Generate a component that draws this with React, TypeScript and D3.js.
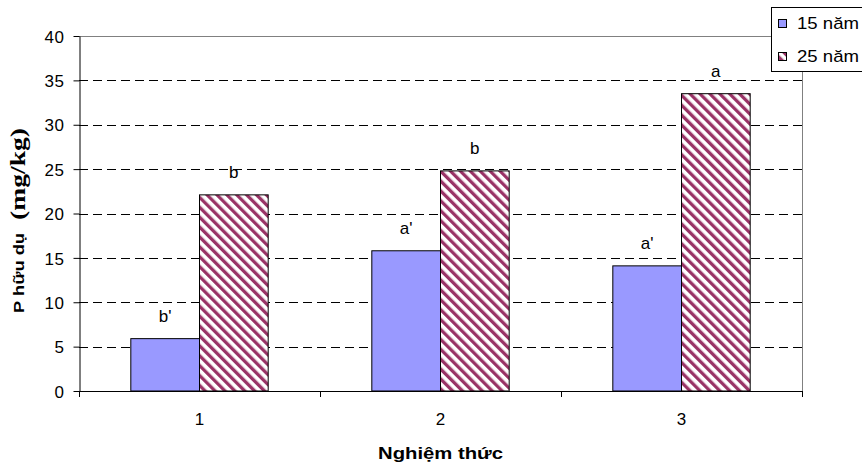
import React, { useEffect, useRef } from "react";
import * as d3 from "d3";

// values
const categories = ["1", "2", "3"];
const seriesNames = ["15 năm", "25 năm"];
const values15 = [5.9, 15.8, 14.1];
const values25 = [22.1, 24.8, 33.5];
const letters15 = ["b'", "a'", "a'"];
const letters25 = ["b", "b", "a"];
const yTicks = [0, 5, 10, 15, 20, 25, 30, 35, 40];

const W = 862;
const H = 468;
const plot = { left: 79, right: 802, top: 36, bottom: 391 };
const blue = "#9999FF";
const maroon = "#993366";
const sans = "Arial, 'Liberation Sans', sans-serif";
const serif = "'Times New Roman', 'Liberation Serif', serif";

export default function App() {
  const ref = useRef<SVGSVGElement>(null);

  useEffect(() => {
    document.body.style.margin = "0";
    const svg = d3.select(ref.current);
    svg.selectAll("*").remove();

    const series = [
      { name: seriesNames[0], values: values15, letters: letters15, fill: blue },
      { name: seriesNames[1], values: values25, letters: letters25, fill: "url(#hatch)" }
    ];

    // hatch pattern for the 25 năm bars
    const defs = svg.append("defs");
    const pat = defs
      .append("pattern")
      .attr("id", "hatch")
      .attr("patternUnits", "userSpaceOnUse")
      .attr("width", 7)
      .attr("height", 7)
      .attr("patternTransform", "rotate(-45)");
    pat.append("rect").attr("width", 7).attr("height", 7).attr("fill", "#fff");
    pat.append("rect").attr("width", 3.3).attr("height", 7).attr("fill", maroon);

    svg.append("rect").attr("width", W).attr("height", H).attr("fill", "#fff");

    const y = d3.scaleLinear().domain([0, 40]).range([plot.bottom, plot.top]);
    const x0 = d3
      .scaleBand()
      .domain(categories)
      .range([plot.left, plot.right])
      .paddingInner(0.43)
      .paddingOuter(0.215);
    const x1 = d3.scaleBand().domain(seriesNames).range([0, x0.bandwidth()]);

    // gridlines
    svg
      .append("g")
      .selectAll("line")
      .data(yTicks.filter(d => d > 0 && d < 40))
      .enter()
      .append("line")
      .attr("x1", plot.left)
      .attr("x2", plot.right)
      .attr("y1", d => Math.round(y(d)) + 0.5)
      .attr("y2", d => Math.round(y(d)) + 0.5)
      .attr("stroke", "#000")
      .attr("stroke-dasharray", "9,5");

    // plot area border (top + right), grey
    svg
      .append("path")
      .attr("d", `M${plot.left},${plot.top + 0.5}H${plot.right + 0.5}V${plot.bottom}`)
      .attr("fill", "none")
      .attr("stroke", "#808080");

    // bars
    const groups = svg
      .append("g")
      .selectAll("g")
      .data(series)
      .enter()
      .append("g");

    groups
      .selectAll("rect")
      .data(s => s.values.map((v, i) => ({ v, i, s })))
      .enter()
      .append("rect")
      .attr("x", d => x0(categories[d.i])! + x1(d.s.name)!)
      .attr("y", d => y(d.v))
      .attr("width", x1.bandwidth())
      .attr("height", d => y(0) - y(d.v))
      .attr("fill", d => d.s.fill)
      .attr("stroke", "#000")
      .attr("stroke-width", 1);

    // letters above bars
    groups
      .selectAll("text")
      .data(s => s.values.map((v, i) => ({ v, i, s })))
      .enter()
      .append("text")
      .attr("x", d => x0(categories[d.i])! + x1(d.s.name)! + x1.bandwidth() / 2)
      .attr("y", d => y(d.v) - 17)
      .attr("text-anchor", "middle")
      .attr("font-family", sans)
      .attr("font-size", 17)
      .text(d => d.s.letters[d.i]);

    // y axis
    const yAxis = svg
      .append("g")
      .attr("transform", `translate(${plot.left + 0.5},0)`)
      .call(
        d3
          .axisLeft(y)
          .tickValues(yTicks)
          .tickSize(6)
          .tickSizeOuter(0)
          .tickPadding(9)
      );
    yAxis.select(".domain").attr("stroke", "#000");
    yAxis.selectAll(".tick line").attr("stroke", "#000");
    yAxis
      .selectAll(".tick text")
      .attr("font-family", sans)
      .attr("font-size", 17)
      .attr("dy", "0.36em")
      .attr("letter-spacing", 0.6)
      .attr("fill", "#000");

    // x axis: baseline with ticks at category boundaries
    const xg = svg.append("g");
    xg.append("line")
      .attr("x1", plot.left)
      .attr("x2", plot.right)
      .attr("y1", plot.bottom + 0.5)
      .attr("y2", plot.bottom + 0.5)
      .attr("stroke", "#000");
    const bounds = categories.map(c => x0(c)! + x0.bandwidth() / 2 - x0.step() / 2);
    bounds.push(bounds[bounds.length - 1] + x0.step());
    xg.selectAll(".xtick")
      .data(bounds)
      .enter()
      .append("line")
      .attr("class", "xtick")
      .attr("x1", d => Math.round(d) + 0.5)
      .attr("x2", d => Math.round(d) + 0.5)
      .attr("y1", plot.bottom)
      .attr("y2", plot.bottom + 6)
      .attr("stroke", "#000");
    xg.selectAll(".xlabel")
      .data(categories)
      .enter()
      .append("text")
      .attr("class", "xlabel")
      .attr("x", d => x0(d)! + x0.bandwidth() / 2)
      .attr("y", 425)
      .attr("text-anchor", "middle")
      .attr("font-family", sans)
      .attr("font-size", 17)
      .text(d => d);

    // axis titles
    svg
      .append("text")
      .attr("x", (plot.left + plot.right) / 2)
      .attr("y", 459)
      .attr("text-anchor", "middle")
      .attr("font-family", sans)
      .attr("font-weight", "bold")
      .attr("font-size", 17)
      .attr("textLength", 125)
      .attr("lengthAdjust", "spacingAndGlyphs")
      .text("Nghiệm thức");

    svg
      .append("text")
      .attr("transform", "translate(24,313) rotate(-90)")
      .attr("font-family", sans)
      .attr("font-weight", "bold")
      .attr("font-size", 15.5)
      .attr("textLength", 80)
      .attr("lengthAdjust", "spacingAndGlyphs")
      .text("P hữu dụ");
    svg
      .append("text")
      .attr("transform", "translate(25,220) rotate(-90)")
      .attr("font-family", serif)
      .attr("font-weight", "bold")
      .attr("font-size", 21)
      .attr("textLength", 92)
      .attr("lengthAdjust", "spacingAndGlyphs")
      .text("(mg/kg)");

    // legend
    const lg = svg.append("g");
    lg.append("rect")
      .attr("x", 771.5)
      .attr("y", 7.5)
      .attr("width", 100)
      .attr("height", 64)
      .attr("fill", "#fff")
      .attr("stroke", "#000");
    const items = lg
      .selectAll(".item")
      .data(series)
      .enter()
      .append("g")
      .attr("class", "item")
      .attr("transform", (_, i) => `translate(0,${i * 33})`);
    items
      .append("rect")
      .attr("x", 778.5)
      .attr("y", 19.5)
      .attr("width", 8)
      .attr("height", 8)
      .attr("fill", d => d.fill)
      .attr("stroke", "#000");
    items
      .append("text")
      .attr("x", 797)
      .attr("y", 29)
      .attr("font-family", sans)
      .attr("font-size", 17)
      .attr("textLength", 62)
      .attr("lengthAdjust", "spacingAndGlyphs")
      .text(d => d.name);
  }, []);

  return <svg ref={ref} width={W} height={H} style={{ display: "block" }} />;
}
